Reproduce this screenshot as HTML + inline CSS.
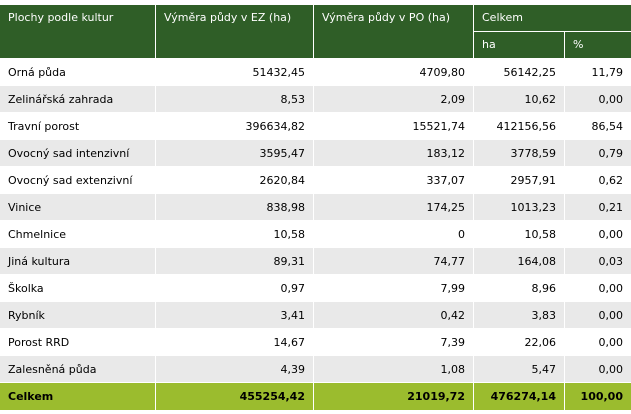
<!DOCTYPE html>
<html><head><meta charset="utf-8"><style>
body{margin:0;width:631px;height:414px;background:#fff;font-family:"DejaVu Sans","Liberation Sans",sans-serif;font-size:11px;position:relative;overflow:hidden}
.c{position:absolute;box-sizing:border-box;padding:0 8px;line-height:27px;white-space:nowrap;color:#000}
.h{background:#2f5e27;color:#fff;line-height:26px}
.r{text-align:right}
.g{background:#e9e9e9}
.t{background:#9bbc2e;font-weight:bold}
</style></head><body>
<div id="tbl"></div>
<script>
const colX=[0,156,314,474,565];
const colW=[155,157,159,90,66];
const names=["Orná půda","Zelinářská zahrada","Travní porost","Ovocný sad intenzivní","Ovocný sad extenzivní","Vinice","Chmelnice","Jiná kultura","Školka","Rybník","Porost RRD","Zalesněná půda"];
const ez=["51432,45","8,53","396634,82","3595,47","2620,84","838,98","10,58","89,31","0,97","3,41","14,67","4,39"];
const po=["4709,80","2,09","15521,74","183,12","337,07","174,25","0","74,77","7,99","0,42","7,39","1,08"];
const ha=["56142,25","10,62","412156,56","3778,59","2957,91","1013,23","10,58","164,08","8,96","3,83","22,06","5,47"];
const pct=["11,79","0,00","86,54","0,79","0,62","0,21","0,00","0,03","0,00","0,00","0,00","0,00"];
const total=["Celkem","455254,42","21019,72","476274,14","100,00"];
const root=document.getElementById('tbl');
function cell(x,y,w,h,text,cls,name){
  const d=document.createElement('div');
  d.className='c '+cls;
  d.style.left=x+'px';d.style.top=y+'px';d.style.width=w+'px';d.style.height=h+'px';
  d.textContent=text;
  
  
  root.appendChild(d);
}
cell(0,5,155,53,"Plochy podle kultur","h","header-crop");
cell(156,5,157,53,"Výměra půdy v EZ (ha)","h","header-area-ez");
cell(314,5,159,53,"Výměra půdy v PO (ha)","h","header-area-po");
cell(474,5,157,26,"Celkem","h","header-total");
cell(474,32,90,26,"ha","h","header-ha");
cell(565,32,66,26,"%","h","header-percent");
const cols=[names,ez,po,ha,pct];
for(let i=0;i<names.length;i++){
  const y=59+i*27;
  for(let j=0;j<5;j++){
    cell(colX[j],y,colW[j],26,cols[j][i],(j?'r ':'')+(i%2?'g':''),'cell-r'+(i+1)+'-c'+(j+1));
  }
}
for(let j=0;j<5;j++){
  cell(colX[j],383,colW[j],27,total[j],(j?'r ':'')+'t','total-c'+(j+1));
}
</script>
</body></html>
